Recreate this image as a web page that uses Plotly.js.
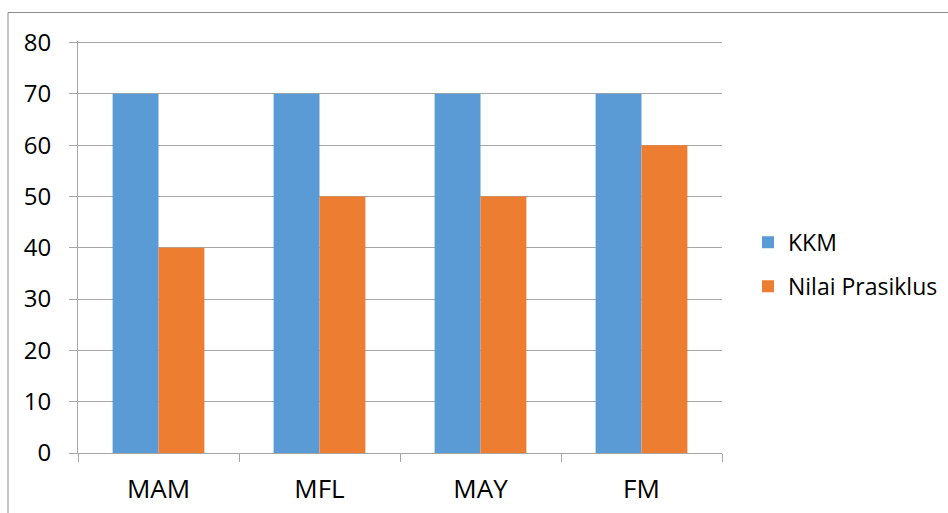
<!DOCTYPE html>
<html>
<head>
<meta charset="utf-8">
<script src="https://cdn.plot.ly/plotly-3.0.1.min.js"></script>
<style>html,body{margin:0;padding:0;background:#fff;}#chart{width:948px;height:513px;}</style>
</head>
<body>
<div id="chart"></div>
<script>
const categories = ["MAM", "MFL", "MAY", "FM"];
const kkmValues = [70, 70, 70, 70];
const prasiklusValues = [40, 50, 50, 60];
const seriesNames = ["KKM", "Nilai Prasiklus"];
const yTicks = [0, 10, 20, 30, 40, 50, 60, 70, 80];

const FONT = "Open Sans, Liberation Sans, sans-serif";
const traces = [
  {type: "bar", name: seriesNames[0], x: categories, y: kkmValues,
   marker: {color: "#5B9BD5"}, legendgroup: "a"},
  {type: "bar", name: seriesNames[1], x: categories, y: prasiklusValues,
   marker: {color: "#ED7D31"}, legendgroup: "b"}
];
const W = 948, H = 513, L = 78, R = 226, T = 40.5, B = 60;
const pw = W - L - R, ph = H - T - B;
const layout = {
  width: W, height: H,
  margin: {l: L, r: R, t: T, b: B, pad: 0, autoexpand: false},
  paper_bgcolor: "#fff", plot_bgcolor: "#fff",
  font: {family: FONT, size: 23, color: "#000"},
  barmode: "group", bargap: 0.43, bargroupgap: 0,
  showlegend: true,
  legend: {x: (748 - L) / pw, y: (H - B - 220.5) / ph, xanchor: "left", yanchor: "top",
           font: {family: FONT, size: 23, color: "#000"},
           traceorder: "grouped", tracegroupgap: 11, itemwidth: 30,
           bgcolor: "rgba(0,0,0,0)"},
  xaxis: {type: "category", tickson: "boundaries", ticks: "outside", ticklen: 8,
          tickcolor: "#A6A6A6", showgrid: false, showline: true, linecolor: "#A6A6A6",
          linewidth: 1, ticklabelstandoff: 13, tickfont: {family: FONT, size: 26}},
  yaxis: {range: [0, 80.3], tickvals: yTicks, ticks: "outside", ticklen: 8,
          tickcolor: "#A6A6A6", showgrid: true, gridcolor: "#A6A6A6", gridwidth: 1,
          showline: true, linecolor: "#A6A6A6", zeroline: false,
          ticklabelstandoff: 13, tickfont: {family: FONT, size: 24}},
  shapes: [{type: "rect", xref: "paper", yref: "paper",
            x0: (8 - L) / pw, x1: (W + 5 - L) / pw,
            y0: (H - B - (H + 5)) / ph, y1: (H - B - 12) / ph,
            line: {color: "#8C8C8C", width: 1}, fillcolor: "rgba(0,0,0,0)", layer: "below"}]
};
Plotly.newPlot("chart", traces, layout, {displayModeBar: false, staticPlot: true});
</script>
</body>
</html>
